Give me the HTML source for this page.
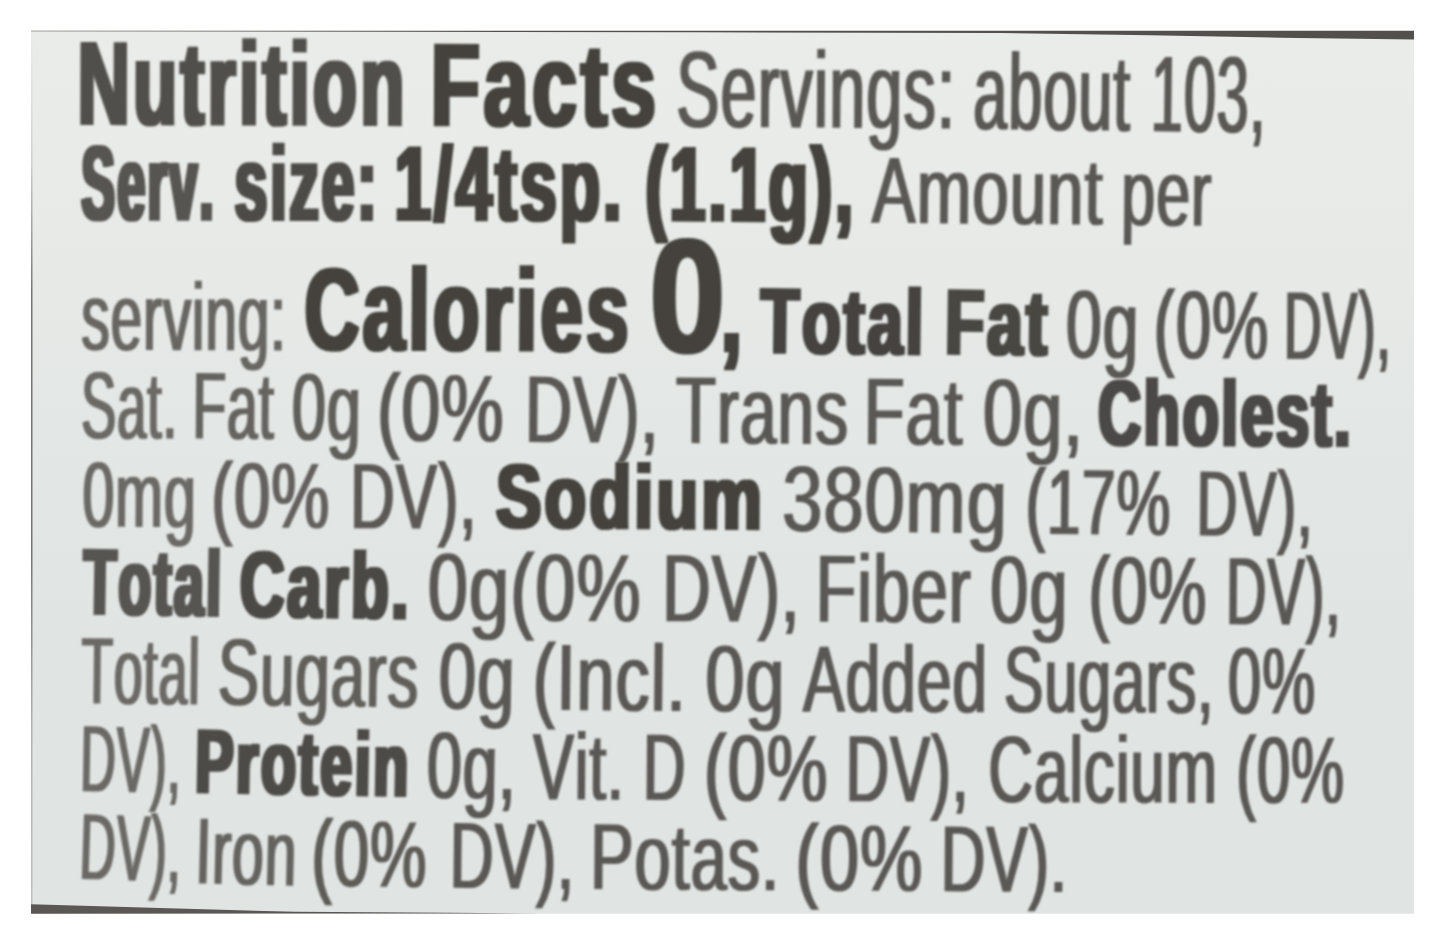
<!DOCTYPE html>
<html><head><meta charset="utf-8"><title>Nutrition Facts</title>
<style>
html,body{margin:0;padding:0;background:#fff;}
body{width:1445px;height:945px;overflow:hidden;position:relative;}
svg{position:absolute;left:0;top:0;display:block;}
.b text{font-weight:bold;}
text{font-family:"Liberation Sans",Arial,sans-serif;font-kerning:none;font-variant-ligatures:none;text-rendering:geometricPrecision;}
</style></head>
<body>
<svg width="1445" height="945" viewBox="0 0 1445 945" xmlns="http://www.w3.org/2000/svg">
<defs>
<linearGradient id="bg" x1="0" y1="0" x2="0" y2="1">
<stop offset="0" stop-color="#eaece9"/><stop offset="0.15" stop-color="#e9ebe8"/><stop offset="0.45" stop-color="#e3e7e5"/><stop offset="0.7" stop-color="#e0e4e3"/><stop offset="1" stop-color="#e0e4e3"/>
</linearGradient>
<linearGradient id="lb" x1="0" y1="0" x2="0" y2="1">
<stop offset="0" stop-color="#6a6866" stop-opacity="0"/><stop offset="0.15" stop-color="#6a6866" stop-opacity="0.2"/>
<stop offset="0.3" stop-color="#6a6866" stop-opacity="0.9"/><stop offset="0.6" stop-color="#6a6866" stop-opacity="0.9"/>
<stop offset="0.8" stop-color="#6a6866" stop-opacity="0.4"/><stop offset="1" stop-color="#6a6866" stop-opacity="0.3"/>
</linearGradient>
</defs>
<rect x="31" y="31" width="1383" height="882.7" fill="url(#bg)"/>
<polygon points="31,30.7 1414,30.7 1414,39.6 1280,37.7 1150,35.2 1000,33 700,32.3 400,31.8 31,31.3" fill="#524f4c"/>
<rect x="31" y="31" width="1.5" height="873" fill="url(#lb)"/>
<polygon points="31,904.3 160,908 295,911.8 450,912.8 540,913.4 31,913.7" fill="#5a5754"/>
<defs>
<filter id="dr" x="-50%" y="-25%" width="200%" height="150%"><feMorphology operator="dilate" radius="1 0"/><feGaussianBlur stdDeviation="1.0"/></filter>
<filter id="db" x="-50%" y="-25%" width="200%" height="150%"><feMorphology operator="dilate" radius="2 1"/><feGaussianBlur stdDeviation="1.0"/></filter>
</defs>
<g class="b" filter="url(#db)"><text transform="translate(77.57 124.06) rotate(0.189) scale(0.6132 1)" font-size="117.73" letter-spacing="5.30" fill="#514f4b">Nutrition </text></g>
<g class="b" filter="url(#db)"><text transform="translate(430.60 125.20) rotate(0.200) scale(0.6893 1)" font-size="117.01" letter-spacing="5.27" fill="#44423e">Facts </text></g>
<g class="r" filter="url(#dr)"><text transform="translate(676.05 126.68) rotate(0.383) scale(0.6001 1)" font-size="108.29" letter-spacing="1.62" fill="#5a5854">Servings: </text></g>
<g class="r" filter="url(#dr)"><text transform="translate(973.10 129.11) rotate(0.640) scale(0.5649 1)" font-size="108.29" letter-spacing="1.62" fill="#5a5854">about </text></g>
<g class="r" filter="url(#dr)"><text transform="translate(1150.62 131.27) rotate(0.739) scale(0.5312 1)" font-size="108.29" letter-spacing="1.62" fill="#5a5854">103, </text></g>
<g class="b" filter="url(#db)"><text transform="translate(81.35 219.58) rotate(0.109) scale(0.4774 1)" font-size="105.38" letter-spacing="4.74" fill="#575551">Serv. </text></g>
<g class="b" filter="url(#db)"><text transform="translate(234.62 219.89) rotate(0.095) scale(0.5610 1)" font-size="105.38" letter-spacing="4.74" fill="#4d4b47">size: </text></g>
<g class="b" filter="url(#db)"><text transform="translate(394.44 220.05) rotate(0.129) scale(0.6263 1)" font-size="105.38" letter-spacing="4.74" fill="#44423e">1/4tsp. </text></g>
<g class="b" filter="url(#db)"><text transform="translate(645.18 220.46) rotate(0.299) scale(0.6132 1)" font-size="105.38" letter-spacing="4.74" fill="#44423e">(1.1g), </text></g>
<g class="r" filter="url(#dr)"><text transform="translate(871.87 222.84) rotate(0.479) scale(0.6932 1)" font-size="94.48" letter-spacing="1.42" fill="#5a5854">Amount </text></g>
<g class="r" filter="url(#dr)"><text transform="translate(1121.07 225.06) rotate(0.540) scale(0.6453 1)" font-size="94.48" letter-spacing="1.42" fill="#5a5854">per </text></g>
<g class="r" filter="url(#dr)"><text transform="translate(81.32 349.81) rotate(0.222) scale(0.5912 1)" font-size="95.93" letter-spacing="1.44" fill="#686662">serving: </text></g>
<g class="b" filter="url(#db)"><text transform="translate(304.28 349.40) rotate(0.317) scale(0.6540 1)" font-size="116.28" letter-spacing="5.23" fill="#44423e">Calories </text></g>
<g class="b" filter="url(#db)"><text transform="translate(649.54 351.86) rotate(0.216) scale(0.8383 1)" font-size="161.78" letter-spacing="7.28" fill="#44423e">0</text></g>
<g class="b" filter="url(#db)"><text transform="translate(720.73 351.20) rotate(0.563) scale(0.6560 1)" font-size="116.14" letter-spacing="5.23" fill="#44423e">, </text></g>
<g class="b" filter="url(#db)"><text transform="translate(760.29 352.55) rotate(0.689) scale(0.6858 1)" font-size="92.30" letter-spacing="4.15" fill="#45433f">Total </text></g>
<g class="b" filter="url(#db)"><text transform="translate(944.71 353.79) rotate(0.768) scale(0.6956 1)" font-size="92.30" letter-spacing="4.15" fill="#484642">Fat </text></g>
<g class="r" filter="url(#dr)"><text transform="translate(1065.49 357.50) rotate(0.802) scale(0.6649 1)" font-size="96.66" letter-spacing="1.45" fill="#5a5854">0g </text></g>
<g class="r" filter="url(#dr)"><text transform="translate(1153.57 358.20) rotate(0.291) scale(0.6562 1)" font-size="96.66" letter-spacing="1.45" fill="#5a5854">(0% </text></g>
<g class="r" filter="url(#dr)"><text transform="translate(1283.71 358.90) rotate(0.320) scale(0.5413 1)" font-size="96.66" letter-spacing="1.45" fill="#5a5854">DV), </text></g>
<g class="r" filter="url(#dr)"><text transform="translate(81.00 438.37) rotate(0.160) scale(0.5541 1)" font-size="95.21" letter-spacing="1.43" fill="#6b6965">Sat. </text></g>
<g class="r" filter="url(#dr)"><text transform="translate(192.27 438.48) rotate(0.435) scale(0.5800 1)" font-size="95.21" letter-spacing="1.43" fill="#65635f">Fat </text></g>
<g class="r" filter="url(#dr)"><text transform="translate(291.61 439.64) rotate(0.612) scale(0.6433 1)" font-size="95.21" letter-spacing="1.43" fill="#605e5a">0g </text></g>
<g class="r" filter="url(#dr)"><text transform="translate(376.65 440.40) rotate(0.539) scale(0.7362 1)" font-size="95.21" letter-spacing="1.43" fill="#5a5854">(0% </text></g>
<g class="r" filter="url(#dr)"><text transform="translate(524.64 441.96) rotate(0.465) scale(0.6869 1)" font-size="95.21" letter-spacing="1.43" fill="#5a5854">DV), </text></g>
<g class="r" filter="url(#dr)"><text transform="translate(675.52 443.07) rotate(0.354) scale(0.6920 1)" font-size="95.21" letter-spacing="1.43" fill="#5a5854">Trans </text></g>
<g class="r" filter="url(#dr)"><text transform="translate(863.51 444.13) rotate(0.403) scale(0.7035 1)" font-size="95.21" letter-spacing="1.43" fill="#5a5854">Fat </text></g>
<g class="r" filter="url(#dr)"><text transform="translate(982.85 445.19) rotate(0.372) scale(0.7402 1)" font-size="95.21" letter-spacing="1.43" fill="#5a5854">0g, </text></g>
<g class="b" filter="url(#db)"><text transform="translate(1098.07 444.85) rotate(0.298) scale(0.6422 1)" font-size="92.30" letter-spacing="4.15" fill="#4c4a46">Cholest. </text></g>
<g class="r" filter="url(#dr)"><text transform="translate(82.26 526.66) rotate(0.345) scale(0.6174 1)" font-size="93.02" letter-spacing="1.40" fill="#6b6965">0mg </text></g>
<g class="r" filter="url(#dr)"><text transform="translate(210.94 527.47) rotate(0.313) scale(0.7038 1)" font-size="93.02" letter-spacing="1.40" fill="#63615d">(0% </text></g>
<g class="r" filter="url(#dr)"><text transform="translate(349.93 528.24) rotate(0.241) scale(0.6646 1)" font-size="93.02" letter-spacing="1.40" fill="#5b5955">DV), </text></g>
<g class="b" filter="url(#db)"><text transform="translate(495.63 527.34) rotate(0.417) scale(0.7591 1)" font-size="90.12" letter-spacing="4.06" fill="#44423e">Sodium </text></g>
<g class="r" filter="url(#dr)"><text transform="translate(782.06 530.77) rotate(0.633) scale(0.7737 1)" font-size="93.02" letter-spacing="1.40" fill="#5a5854">380mg </text></g>
<g class="r" filter="url(#dr)"><text transform="translate(1025.22 533.69) rotate(0.635) scale(0.6548 1)" font-size="93.02" letter-spacing="1.40" fill="#5a5854">(17% </text></g>
<g class="r" filter="url(#dr)"><text transform="translate(1196.34 535.44) rotate(0.552) scale(0.6106 1)" font-size="93.02" letter-spacing="1.40" fill="#5a5854">DV), </text></g>
<g class="b" filter="url(#db)"><text transform="translate(82.90 613.75) rotate(0.895) scale(0.5771 1)" font-size="93.02" letter-spacing="4.19" fill="#575551">Total </text></g>
<g class="b" filter="url(#db)"><text transform="translate(239.47 616.41) rotate(0.746) scale(0.6631 1)" font-size="93.02" letter-spacing="4.19" fill="#4b4945">Carb. </text></g>
<g class="r" filter="url(#dr)"><text transform="translate(427.58 620.02) rotate(0.422) scale(0.7517 1)" font-size="95.93" letter-spacing="1.44" fill="#5a5854">0g(0% </text></g>
<g class="r" filter="url(#dr)"><text transform="translate(661.88 621.23) rotate(0.222) scale(0.7018 1)" font-size="95.93" letter-spacing="1.44" fill="#5a5854">DV), </text></g>
<g class="r" filter="url(#dr)"><text transform="translate(815.45 621.80) rotate(0.289) scale(0.6921 1)" font-size="95.93" letter-spacing="1.44" fill="#5a5854">Fiber </text></g>
<g class="r" filter="url(#dr)"><text transform="translate(990.12 622.76) rotate(0.362) scale(0.7148 1)" font-size="95.93" letter-spacing="1.44" fill="#5a5854">0g </text></g>
<g class="r" filter="url(#dr)"><text transform="translate(1088.35 623.40) rotate(0.382) scale(0.6800 1)" font-size="95.93" letter-spacing="1.44" fill="#5a5854">(0% </text></g>
<g class="r" filter="url(#dr)"><text transform="translate(1225.69 624.32) rotate(0.383) scale(0.5854 1)" font-size="95.93" letter-spacing="1.44" fill="#5a5854">DV), </text></g>
<g class="r" filter="url(#dr)"><text transform="translate(81.03 703.35) rotate(0.640) scale(0.5491 1)" font-size="94.48" letter-spacing="1.42" fill="#6b6965">Total </text></g>
<g class="r" filter="url(#dr)"><text transform="translate(217.60 704.51) rotate(0.852) scale(0.6538 1)" font-size="94.48" letter-spacing="1.42" fill="#605e5a">Sugars </text></g>
<g class="r" filter="url(#dr)"><text transform="translate(438.27 708.42) rotate(0.889) scale(0.7134 1)" font-size="94.48" letter-spacing="1.42" fill="#5a5854">0g </text></g>
<g class="r" filter="url(#dr)"><text transform="translate(532.57 709.80) rotate(0.533) scale(0.7221 1)" font-size="94.48" letter-spacing="1.42" fill="#5a5854">(Incl. </text></g>
<g class="r" filter="url(#dr)"><text transform="translate(705.15 711.30) rotate(0.302) scale(0.7444 1)" font-size="94.48" letter-spacing="1.42" fill="#5a5854">0g </text></g>
<g class="r" filter="url(#dr)"><text transform="translate(802.88 711.75) rotate(0.158) scale(0.6603 1)" font-size="94.48" letter-spacing="1.42" fill="#5a5854">Added </text></g>
<g class="r" filter="url(#dr)"><text transform="translate(1003.71 712.09) rotate(0.227) scale(0.6280 1)" font-size="94.48" letter-spacing="1.42" fill="#5a5854">Sugars, </text></g>
<g class="r" filter="url(#dr)"><text transform="translate(1227.87 713.23) rotate(0.349) scale(0.6317 1)" font-size="94.48" letter-spacing="1.42" fill="#5a5854">0% </text></g>
<g class="r" filter="url(#dr)"><text transform="translate(79.87 791.29) rotate(1.036) scale(0.5204 1)" font-size="94.48" letter-spacing="1.42" fill="#6b6965">DV), </text></g>
<g class="b" filter="url(#db)"><text transform="translate(194.66 792.32) rotate(1.063) scale(0.6368 1)" font-size="90.12" letter-spacing="4.06" fill="#4d4b47">Protein </text></g>
<g class="r" filter="url(#dr)"><text transform="translate(426.45 797.84) rotate(0.878) scale(0.6640 1)" font-size="94.48" letter-spacing="1.42" fill="#5a5854">0g, </text></g>
<g class="r" filter="url(#dr)"><text transform="translate(532.73 799.17) rotate(0.439) scale(0.6469 1)" font-size="94.48" letter-spacing="1.42" fill="#5a5854">Vit. </text></g>
<g class="r" filter="url(#dr)"><text transform="translate(642.77 799.85) rotate(0.390) scale(0.6237 1)" font-size="94.48" letter-spacing="1.42" fill="#5a5854">D </text></g>
<g class="r" filter="url(#dr)"><text transform="translate(703.66 800.41) rotate(0.356) scale(0.7233 1)" font-size="94.48" letter-spacing="1.42" fill="#5a5854">(0% </text></g>
<g class="r" filter="url(#dr)"><text transform="translate(845.47 801.19) rotate(0.290) scale(0.6363 1)" font-size="94.48" letter-spacing="1.42" fill="#5a5854">DV), </text></g>
<g class="r" filter="url(#dr)"><text transform="translate(988.36 802.11) rotate(0.194) scale(0.6539 1)" font-size="94.48" letter-spacing="1.42" fill="#5a5854">Calcium </text></g>
<g class="r" filter="url(#dr)"><text transform="translate(1236.31 802.71) rotate(0.091) scale(0.6305 1)" font-size="94.48" letter-spacing="1.42" fill="#5a5854">(0% </text></g>
<g class="r" filter="url(#dr)"><text transform="translate(78.82 878.76) rotate(1.966) scale(0.5285 1)" font-size="94.04" letter-spacing="1.41" fill="#6b6965">DV), </text></g>
<g class="r" filter="url(#dr)"><text transform="translate(194.73 883.22) rotate(1.432) scale(0.6073 1)" font-size="94.04" letter-spacing="1.41" fill="#65635f">Iron </text></g>
<g class="r" filter="url(#dr)"><text transform="translate(311.05 885.62) rotate(0.863) scale(0.6769 1)" font-size="94.04" letter-spacing="1.41" fill="#5d5b57">(0% </text></g>
<g class="r" filter="url(#dr)"><text transform="translate(449.62 887.87) rotate(0.582) scale(0.6460 1)" font-size="94.04" letter-spacing="1.41" fill="#5a5854">DV), </text></g>
<g class="r" filter="url(#dr)"><text transform="translate(589.97 889.10) rotate(0.362) scale(0.6913 1)" font-size="94.04" letter-spacing="1.41" fill="#5a5854">Potas. </text></g>
<g class="r" filter="url(#dr)"><text transform="translate(795.24 890.30) rotate(0.359) scale(0.7478 1)" font-size="94.04" letter-spacing="1.41" fill="#5a5854">(0% </text></g>
<g class="r" filter="url(#dr)"><text transform="translate(940.42 891.26) rotate(0.399) scale(0.6579 1)" font-size="94.04" letter-spacing="1.41" fill="#5a5854">DV). </text></g>
</svg>
</body></html>
